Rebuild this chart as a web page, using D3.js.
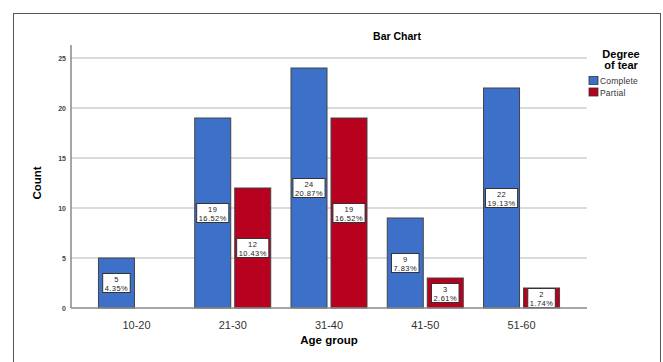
<!DOCTYPE html>
<html>
<head>
<meta charset="utf-8">
<script src="https://cdn.jsdelivr.net/npm/d3@7"></script>
<style>
  body { margin: 0; background: #fff; }
  svg { display: block; font-family: Arial, "Liberation Sans", sans-serif; }
</style>
</head>
<body>
<div id="chart"></div>
<script>
var ageGroups = ["10-20", "21-30", "31-40", "41-50", "51-60"];
var seriesNames = ["Complete", "Partial"];
var completeCounts = [5, 19, 24, 9, 22];
var partialCounts = [0, 12, 19, 3, 2];
var completePct = ["4.35%", "16.52%", "20.87%", "7.83%", "19.13%"];
var partialPct = ["", "10.43%", "16.52%", "2.61%", "1.74%"];
var yTicks = [0, 5, 10, 15, 20, 25];

var colors = { Complete: "#3d70c9", Partial: "#b8001f" };

var width = 663, height = 362;
var margin = { left: 71, right: 76, top: 45, bottom: 54 };

var svg = d3.select("#chart").append("svg")
    .attr("width", width)
    .attr("height", height);

// outer frame
svg.append("rect")
    .attr("x", 13.5).attr("y", 13.5)
    .attr("width", 647).attr("height", 360)
    .attr("fill", "none")
    .attr("stroke", "#555")
    .attr("stroke-width", 1);

var x0 = d3.scaleBand()
    .domain(ageGroups)
    .range([margin.left, width - margin.right])
    .paddingInner(0)
    .paddingOuter(0.18);

var x1 = d3.scaleBand()
    .domain(seriesNames)
    .range([0, 76])
    .paddingInner(0.1);

var y = d3.scaleLinear()
    .domain([0, 26.3])
    .range([308, 45]);

// gridlines
svg.append("g").selectAll("line")
    .data(yTicks.filter(function(d){ return d > 0; }))
    .enter().append("line")
    .attr("x1", margin.left).attr("x2", width - margin.right)
    .attr("y1", function(d){ return y(d); })
    .attr("y2", function(d){ return y(d); })
    .attr("stroke", "#cfcfcf")
    .attr("stroke-width", 1.5);

// y tick labels
svg.append("g").selectAll("text")
    .data(yTicks)
    .enter().append("text")
    .attr("x", 66)
    .attr("y", function(d){ return y(d) + 2.5; })
    .attr("text-anchor", "end")
    .attr("font-size", 7)
    .attr("font-weight", "bold")
    .attr("fill", "#444")
    .text(function(d){ return d; });

// build rows
var rows = ageGroups.map(function(g, i){
    return {
        group: g,
        values: [
            { key: "Complete", value: completeCounts[i], pct: completePct[i] },
            { key: "Partial", value: partialCounts[i], pct: partialPct[i] }
        ]
    };
});

var groups = svg.append("g").selectAll("g")
    .data(rows)
    .enter().append("g")
    .attr("transform", function(d){
        var c = x0(d.group) + x0.bandwidth() / 2;
        return "translate(" + (c - 38) + ",0)";
    });

var bars = groups.selectAll("g.bar")
    .data(function(d){ return d.values.filter(function(v){ return v.value > 0; }); })
    .enter().append("g")
    .attr("class", "bar");

bars.append("rect")
    .attr("x", function(d){ return x1(d.key); })
    .attr("y", function(d){ return y(d.value); })
    .attr("width", x1.bandwidth())
    .attr("height", function(d){ return y(0) - y(d.value); })
    .attr("fill", function(d){ return colors[d.key]; })
    .attr("stroke", "#444")
    .attr("stroke-width", 1);

// value labels (count + percent in a white box)
var labels = bars.append("g")
    .attr("transform", function(d){
        return "translate(" + (x1(d.key) + x1.bandwidth() / 2) + "," + y(d.value / 2) + ")";
    });

labels.each(function(d){
    var g = d3.select(this);
    var t1 = g.append("text")
        .attr("text-anchor", "middle")
        .attr("y", -1.5)
        .attr("font-size", 7.5)
        .attr("fill", "#222")
        .attr("letter-spacing", 0.45)
        .text(d.value);
    var t2 = g.append("text")
        .attr("text-anchor", "middle")
        .attr("y", 7.5)
        .attr("font-size", 7.5)
        .attr("fill", "#222")
        .attr("letter-spacing", 0.45)
        .text(d.pct);
    var w = Math.max(t1.node().getComputedTextLength(), t2.node().getComputedTextLength()) + 4;
    g.insert("rect", "text")
        .attr("x", -w / 2)
        .attr("y", -9.5)
        .attr("width", w)
        .attr("height", 19)
        .attr("fill", "#fff")
        .attr("stroke", "#333")
        .attr("stroke-width", 1);
});

// axes lines
svg.append("line")
    .attr("x1", margin.left).attr("x2", margin.left)
    .attr("y1", 45).attr("y2", y(0))
    .attr("stroke", "#888").attr("stroke-width", 1.5);
svg.append("line")
    .attr("x1", margin.left).attr("x2", width - margin.right)
    .attr("y1", y(0)).attr("y2", y(0))
    .attr("stroke", "#888").attr("stroke-width", 1.5);

// x tick labels
svg.append("g").selectAll("text")
    .data(ageGroups)
    .enter().append("text")
    .attr("x", function(d){ return x0(d) + x0.bandwidth() / 2; })
    .attr("y", 329)
    .attr("text-anchor", "middle")
    .attr("font-size", 11)
    .attr("fill", "#333")
    .text(function(d){ return d; });

// title
svg.append("text")
    .attr("x", 397).attr("y", 40)
    .attr("text-anchor", "middle")
    .attr("font-size", 10.5)
    .attr("font-weight", "bold")
    .text("Bar Chart");

// axis titles
svg.append("text")
    .attr("transform", "translate(41,183) rotate(-90)")
    .attr("text-anchor", "middle")
    .attr("font-size", 11.5)
    .attr("font-weight", "bold")
    .text("Count");

svg.append("text")
    .attr("x", 329).attr("y", 344)
    .attr("text-anchor", "middle")
    .attr("font-size", 11.5)
    .attr("font-weight", "bold")
    .text("Age group");

// legend
var legend = svg.append("g");
legend.append("text")
    .attr("x", 621).attr("y", 58)
    .attr("text-anchor", "middle")
    .attr("font-size", 11)
    .attr("font-weight", "bold")
    .text("Degree");
legend.append("text")
    .attr("x", 621).attr("y", 69)
    .attr("text-anchor", "middle")
    .attr("font-size", 11)
    .attr("font-weight", "bold")
    .text("of tear");

var items = legend.selectAll("g.item")
    .data(seriesNames)
    .enter().append("g")
    .attr("class", "item")
    .attr("transform", function(d, i){ return "translate(589," + (76.5 + i * 11.5) + ")"; });

items.append("rect")
    .attr("width", 9).attr("height", 8)
    .attr("fill", function(d){ return colors[d]; })
    .attr("stroke", "#333").attr("stroke-width", 0.8);

items.append("text")
    .attr("x", 11).attr("y", 7.5)
    .attr("font-size", 8.5)
    .attr("fill", "#333")
    .attr("letter-spacing", 0.2)
    .text(function(d){ return d; });
</script>
</body>
</html>
